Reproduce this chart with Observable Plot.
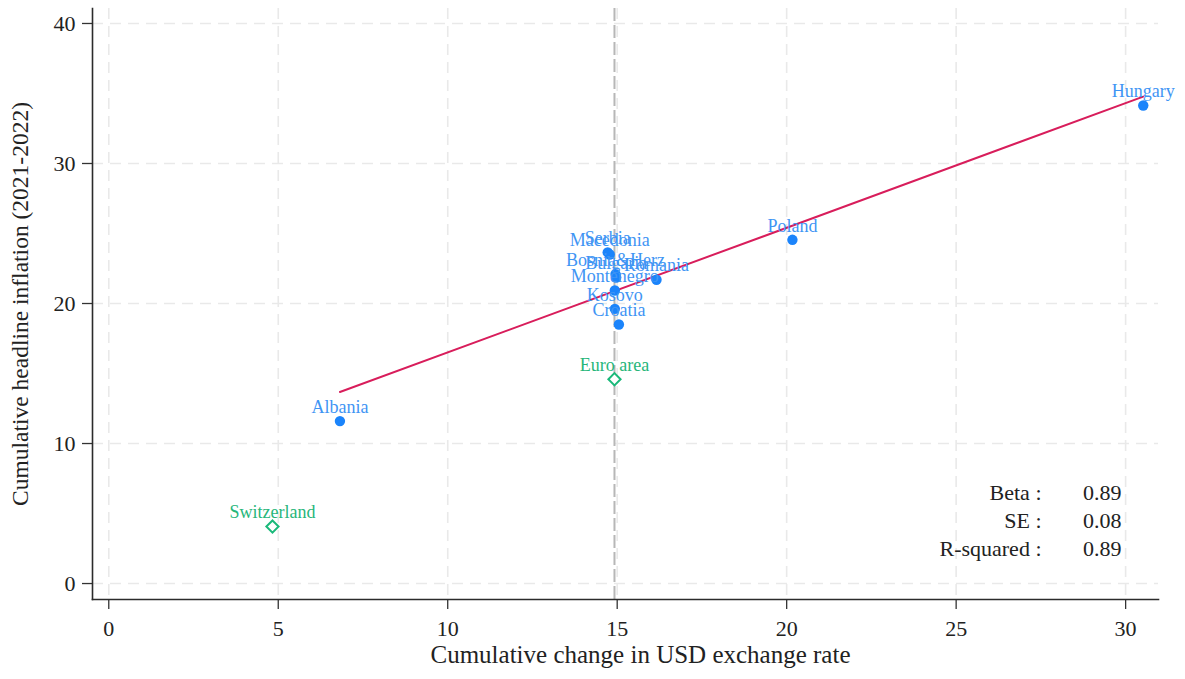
<!DOCTYPE html>
<html>
<head>
<meta charset="utf-8">
<script src="https://cdn.jsdelivr.net/npm/d3@7"></script>
<script src="https://cdn.jsdelivr.net/npm/@observablehq/plot@0.6"></script>
<style>
  html, body { margin: 0; padding: 0; background: #fff; }
  #chart { width: 1185px; height: 679px; }
</style>
</head>
<body>
<div id="chart"></div>
<script>
// Countries (regression sample)
const countries = ["Hungary","Poland","Serbia","Macedonia","Bosnia&Herz","Bulgaria","Romania","Montenegro","Kosovo","Croatia","Albania"];
const fxChange  = [30.52, 20.17, 14.72, 14.78, 14.95, 14.97, 16.16, 14.93, 14.93, 15.05, 6.82];
const inflation = [34.14, 24.55, 23.65, 23.50, 22.10, 21.85, 21.70, 20.93, 19.62, 18.50, 11.60];

// Benchmarks (not in regression)
const benchmarks = ["Euro area","Switzerland"];
const benchFx    = [14.92, 4.83];
const benchInfl  = [14.59, 4.07];

const xTicks = [0, 5, 10, 15, 20, 25, 30];
const yTicks = [0, 10, 20, 30, 40];

const statLabels = ["Beta :", "SE :", "R-squared :"];
const statValues = ["0.89", "0.08", "0.89"];

const xTitle = "Cumulative change in USD exchange rate";
const yTitle = "Cumulative headline inflation (2021-2022)";

const pts = countries.map((c, i) => ({name: c, x: fxChange[i], y: inflation[i]}));
const bench = benchmarks.map((c, i) => ({name: c, x: benchFx[i], y: benchInfl[i]}));

const BLUE = "#1b84fb", BLUE_T = "#3f95f4", GREEN = "#1ab97a", GREEN_T = "#27b67a", RED = "#d81d5b";
const FONT = "Liberation Serif";

const marks = [
  Plot.gridX(xTicks, {stroke: "#e9e9e9", strokeOpacity: 1, strokeWidth: 1.6, strokeDasharray: "11,7"}),
  Plot.gridY(yTicks, {stroke: "#e9e9e9", strokeOpacity: 1, strokeWidth: 1.6, strokeDasharray: "11,7"}),
  Plot.ruleX(bench.slice(0, 1), {x: "x", stroke: "#b7b7b7", strokeWidth: 2, strokeDasharray: "13,4"}),
  Plot.linearRegressionY(pts, {x: "x", y: "y", stroke: RED, strokeWidth: 2, ci: 0}),
  Plot.dot(pts, {x: "x", y: "y", r: 5.2, fill: BLUE, stroke: "none"}),
  Plot.dot(bench, {x: "x", y: "y", r: 5.5, symbol: "diamond2", stroke: GREEN, strokeWidth: 2, fill: "white"}),
  Plot.text(pts, {x: "x", y: "y", text: "name", dy: -14, fill: BLUE_T, fontSize: 18, fontFamily: FONT}),
  Plot.text(bench, {x: "x", y: "y", text: "name", dy: -14, fill: GREEN_T, fontSize: 18, fontFamily: FONT}),
  Plot.axisX({ticks: xTicks, tickSize: 10, tickPadding: 11, fontSize: 22, label: null, stroke: "#333", color: "#222", strokeWidth: 1.3}),
  Plot.axisY({ticks: yTicks, tickSize: 10, tickPadding: 7, fontSize: 22, label: null, stroke: "#333", color: "#222", strokeWidth: 1.3}),
  Plot.frame({anchor: "left", stroke: "#2b2b2b", strokeWidth: 1.6}),
  Plot.frame({anchor: "bottom", stroke: "#2b2b2b", strokeWidth: 1.6}),
  Plot.text([xTitle], {frameAnchor: "bottom", textAnchor: "middle", dx: 15, dy: 63, fontSize: 25, fill: "#222", fontFamily: FONT}),
  Plot.text([yTitle], {frameAnchor: "left", textAnchor: "middle", dx: -72, rotate: -90, fontSize: 23.5, fill: "#222", fontFamily: FONT}),
  ...statLabels.map((s, i) => Plot.text([s], {frameAnchor: "bottom-right", textAnchor: "end", dx: -117, dy: -100 + 28 * i, fontSize: 22, fill: "#222", fontFamily: FONT})),
  ...statValues.map((s, i) => Plot.text([s], {frameAnchor: "bottom-right", textAnchor: "end", dx: -37, dy: -100 + 28 * i, fontSize: 22, fill: "#222", fontFamily: FONT}))
];

const chart = Plot.plot({
  width: 1185,
  height: 679,
  marginLeft: 92,
  marginRight: 27,
  marginTop: 8,
  marginBottom: 80,
  style: {fontFamily: FONT, background: "white", color: "#222"},
  x: {domain: [-0.48, 30.97]},
  y: {domain: [-1.14, 41.07]},
  marks
});
document.getElementById("chart").appendChild(chart);
</script>
</body>
</html>
